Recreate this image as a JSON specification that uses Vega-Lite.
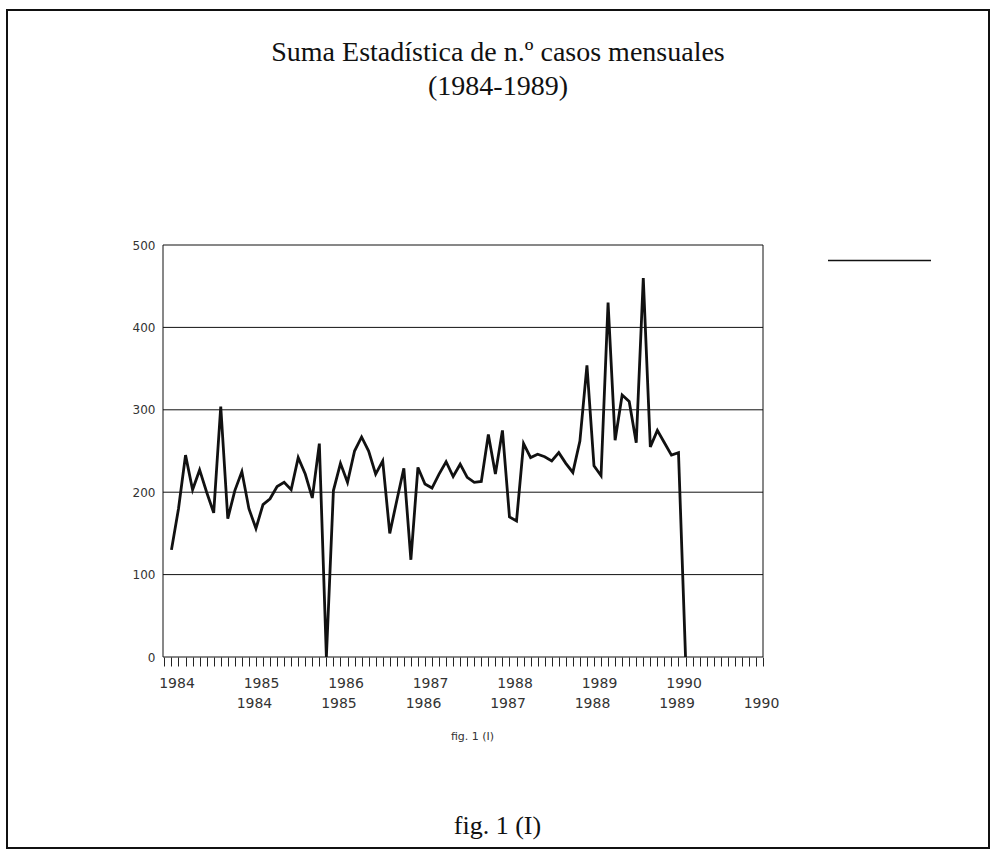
{
  "$schema": "https://vega.github.io/schema/vega-lite/v6.json",
  "width": 982,
  "height": 838,
  "autosize": {"type": "none"},
  "padding": {"left": 7, "top": 10, "right": 6, "bottom": 10},
  "background": "white",
  "config": {"view": {"stroke": "#111111", "strokeWidth": 2}},
  "title": {
    "text": ["Suma Estadística de n.º casos mensuales", "(1984-1989)"],
    "font": "Liberation Serif",
    "fontSize": 28,
    "fontWeight": "normal",
    "color": "#111111",
    "anchor": "middle",
    "frame": "group",
    "orient": "top",
    "baseline": "top",
    "offset": -91,
    "lineHeight": 34
  },
  "datasets": {
    "serie": [
      {"n": 0, "casos": 130}, {"n": 1, "casos": 180}, {"n": 2, "casos": 245}, {"n": 3, "casos": 203},
      {"n": 4, "casos": 227}, {"n": 5, "casos": 200}, {"n": 6, "casos": 175}, {"n": 7, "casos": 304},
      {"n": 8, "casos": 168}, {"n": 9, "casos": 202}, {"n": 10, "casos": 225}, {"n": 11, "casos": 180},
      {"n": 12, "casos": 156}, {"n": 13, "casos": 185}, {"n": 14, "casos": 192}, {"n": 15, "casos": 207},
      {"n": 16, "casos": 212}, {"n": 17, "casos": 203}, {"n": 18, "casos": 242}, {"n": 19, "casos": 222},
      {"n": 20, "casos": 193}, {"n": 21, "casos": 259}, {"n": 22, "casos": 0}, {"n": 23, "casos": 202},
      {"n": 24, "casos": 235}, {"n": 25, "casos": 212}, {"n": 26, "casos": 250}, {"n": 27, "casos": 267},
      {"n": 28, "casos": 250}, {"n": 29, "casos": 222}, {"n": 30, "casos": 238}, {"n": 31, "casos": 150},
      {"n": 32, "casos": 190}, {"n": 33, "casos": 229}, {"n": 34, "casos": 118}, {"n": 35, "casos": 230},
      {"n": 36, "casos": 210}, {"n": 37, "casos": 205}, {"n": 38, "casos": 222}, {"n": 39, "casos": 237},
      {"n": 40, "casos": 219}, {"n": 41, "casos": 234}, {"n": 42, "casos": 218}, {"n": 43, "casos": 212},
      {"n": 44, "casos": 213}, {"n": 45, "casos": 270}, {"n": 46, "casos": 222}, {"n": 47, "casos": 275},
      {"n": 48, "casos": 170}, {"n": 49, "casos": 165}, {"n": 50, "casos": 259}, {"n": 51, "casos": 242},
      {"n": 52, "casos": 246}, {"n": 53, "casos": 243}, {"n": 54, "casos": 238}, {"n": 55, "casos": 248},
      {"n": 56, "casos": 235}, {"n": 57, "casos": 224}, {"n": 58, "casos": 262}, {"n": 59, "casos": 354},
      {"n": 60, "casos": 232}, {"n": 61, "casos": 220}, {"n": 62, "casos": 430}, {"n": 63, "casos": 263},
      {"n": 64, "casos": 318}, {"n": 65, "casos": 310}, {"n": 66, "casos": 260}, {"n": 67, "casos": 460},
      {"n": 68, "casos": 255}, {"n": 69, "casos": 275}, {"n": 70, "casos": 260}, {"n": 71, "casos": 245},
      {"n": 72, "casos": 248}, {"n": 73, "casos": 0}
    ],
    "rejilla": [{"valor": 100}, {"valor": 200}, {"valor": 300}, {"valor": 400}],
    "marco": [{"nombre": "área"}]
  },
  "layer": [
    {
      "layer": [
        {
          "data": {"name": "rejilla"},
          "mark": {"type": "rule", "color": "#111111", "strokeWidth": 1},
          "encoding": {
            "x": {"datum": -1.2, "type": "quantitative", "scale": {"domain": [-1.2, 84], "range": [156, 756], "nice": false, "zero": false}},
            "x2": {"datum": 84},
            "y": {"field": "valor", "type": "quantitative", "scale": {"domain": [0, 500], "range": [647, 235], "nice": false}}
          }
        },
        {
          "data": {"name": "serie"},
          "mark": {"type": "line", "strokeWidth": 2.8, "strokeJoin": "miter", "clip": false},
          "encoding": {
            "x": {
              "field": "n",
              "type": "quantitative",
              "scale": {"domain": [-1.2, 84], "range": [156, 756], "nice": false, "zero": false},
              "axis": {
                "orient": "bottom",
                "offset": -191,
                "values": [-1, 0, 1, 2, 3, 4, 5, 6, 7, 8, 9, 10, 11, 12, 13, 14, 15, 16, 17, 18, 19, 20, 21, 22, 23, 24, 25, 26, 27, 28, 29, 30, 31, 32, 33, 34, 35, 36, 37, 38, 39, 40, 41, 42, 43, 44, 45, 46, 47, 48, 49, 50, 51, 52, 53, 54, 55, 56, 57, 58, 59, 60, 61, 62, 63, 64, 65, 66, 67, 68, 69, 70, 71, 72, 73, 74, 75, 76, 77, 78, 79, 80, 81, 82, 83, 84],
                "tickCount": 500,
                "domain": false,
                "grid": false,
                "ticks": true,
                "tickSize": 9,
                "tickColor": "#222222",
                "tickWidth": 1,
                "labelExpr": "datum.value % 12 == 1 ? '' + (1984 + (datum.value - 1) / 12) : ((datum.value > 0 && datum.value % 12 == 0) ? ['', '' + (1983 + datum.value / 12)] : '')",
                "labelFont": "DejaVu Sans",
                "labelFontSize": 14,
                "labelColor": "#333333",
                "labelPadding": 10,
                "labelLineHeight": 20,
                "labelBaseline": "top",
                "labelOverlap": false,
                "labelFlush": false,
                "labelBound": false,
                "labelOffset": -2,
                "title": "fig. 1 (I)",
                "titleFont": "DejaVu Sans",
                "titleFontSize": 11,
                "titleFontWeight": "normal",
                "titleColor": "#333333",
                "titleX": 465,
                "titlePadding": 20
              }
            },
            "y": {
              "field": "casos",
              "type": "quantitative",
              "scale": {"domain": [0, 500], "range": [647, 235], "nice": false},
              "axis": {
                "orient": "left",
                "offset": -156,
                "values": [0, 100, 200, 300, 400, 500],
                "domain": false,
                "grid": false,
                "ticks": false,
                "labelFont": "DejaVu Sans",
                "labelFontSize": 12,
                "labelColor": "#333333",
                "labelPadding": 8,
                "title": null
              }
            },
            "color": {
              "datum": "casos mensuales",
              "type": "nominal",
              "scale": {"range": ["#111111"]},
              "legend": {
                "orient": "none",
                "legendX": 820,
                "legendY": 198,
                "title": null,
                "symbolType": "stroke",
                "symbolSize": 10609,
                "symbolStrokeWidth": 1.5,
                "labelExpr": "''",
                "labelFontSize": 1,
                "padding": 0
              }
            }
          }
        }
      ]
    },
    {
      "data": {"name": "marco"},
      "mark": {"type": "rect", "fill": null, "stroke": "#111111", "strokeWidth": 1},
      "encoding": {
        "x": {
          "datum": -1.2,
          "type": "quantitative",
          "scale": {"domain": [-1.2, 84], "range": [156, 756], "nice": false, "zero": false},
          "axis": {
            "orient": "bottom",
            "offset": -60,
            "domain": false,
            "ticks": false,
            "labels": false,
            "grid": false,
            "title": "fig. 1 (I)",
            "titleFont": "Liberation Serif",
            "titleFontSize": 26,
            "titleFontWeight": "normal",
            "titleColor": "#111111",
            "titleX": 490,
            "titlePadding": 24
          }
        },
        "x2": {"datum": 84},
        "y": {"datum": 0, "type": "quantitative"},
        "y2": {"datum": 500}
      }
    }
  ],
  "resolve": {"scale": {"x": "independent"}, "axis": {"x": "independent"}}
}
